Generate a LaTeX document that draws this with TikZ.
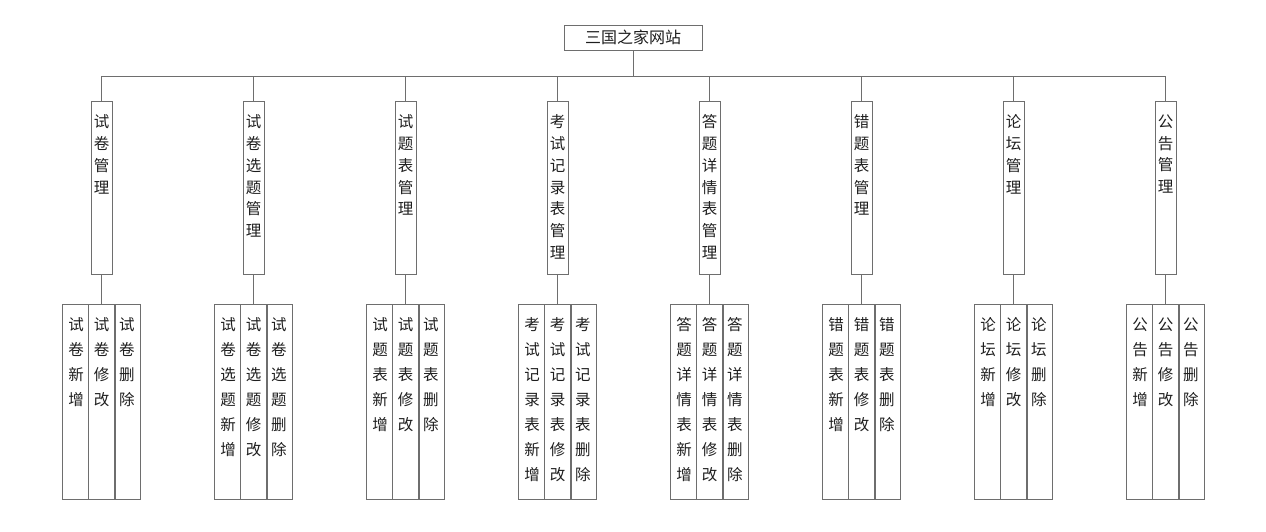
\documentclass[tikz,border=0pt]{standalone}
\usepackage{fontspec}
\newfontfamily\cjk{Noto Sans CJK SC}
\definecolor{ln}{RGB}{110,110,110}
\definecolor{tx}{RGB}{30,30,30}
\begin{document}
\begin{tikzpicture}[x=1pt,y=-1pt,
  box/.style={draw=ln,line width=0.8pt,inner sep=0pt},
  lvtwo/.style={box,minimum width=21pt,minimum height=173pt,anchor=north},
  col/.style={box,minimum width=25.4pt,minimum height=195pt,anchor=north},
  lbltwo/.style={anchor=north,inner sep=0pt,align=center,font=\cjk\fontsize{15.5}{21.8}\selectfont,text=tx},
  lblthree/.style={anchor=north,inner sep=0pt,align=center,font=\cjk\fontsize{15.5}{25}\selectfont,text=tx},
  conn/.style={draw=ln,line width=0.8pt}]
\useasboundingbox (0,0) rectangle (1266,532);
\node[box,minimum width=138pt,minimum height=25pt,font=\cjk\fontsize{16}{16}\selectfont,text=tx] (root) at (633,37.5) {三国之家网站};
\coordinate (bus) at (633,76);
\foreach \i/\t/\p in {
  1/{试\\卷\\管\\理}/{试\\卷},
  2/{试\\卷\\选\\题\\管\\理}/{试\\卷\\选\\题},
  3/{试\\题\\表\\管\\理}/{试\\题\\表},
  4/{考\\试\\记\\录\\表\\管\\理}/{考\\试\\记\\录\\表},
  5/{答\\题\\详\\情\\表\\管\\理}/{答\\题\\详\\情\\表},
  6/{错\\题\\表\\管\\理}/{错\\题\\表},
  7/{论\\坛\\管\\理}/{论\\坛},
  8/{公\\告\\管\\理}/{公\\告}}{
  \pgfmathsetmacro\cx{101.5+152*(\i-1)}
  \node[lvtwo] (m\i) at (\cx,101) {};
  \node[lbltwo] (mt\i) at (\cx,114.5) {\t};
  \node[col] (s\i-b) at (\cx,304) {};
  \node[col,anchor=north east] (s\i-a) at (s\i-b.north west) {};
  \node[col,anchor=north west] (s\i-c) at (s\i-b.north east) {};
  \node[lblthree] (t\i-a) at (\cx-25.4,317.5) {\p\\新\\增};
  \node[lblthree] (t\i-b) at (\cx,317.5) {\p\\修\\改};
  \node[lblthree] (t\i-c) at (\cx+25.4,317.5) {\p\\删\\除};
  \draw[conn] (m\i.north) -- (m\i.north |- bus);
  \draw[conn] (m\i.south) -- (s\i-b.north);
}
\draw[conn] (root.south) -- (bus);
\draw[conn] (m1.north |- bus) -- (m8.north |- bus);
\end{tikzpicture}
\end{document}
